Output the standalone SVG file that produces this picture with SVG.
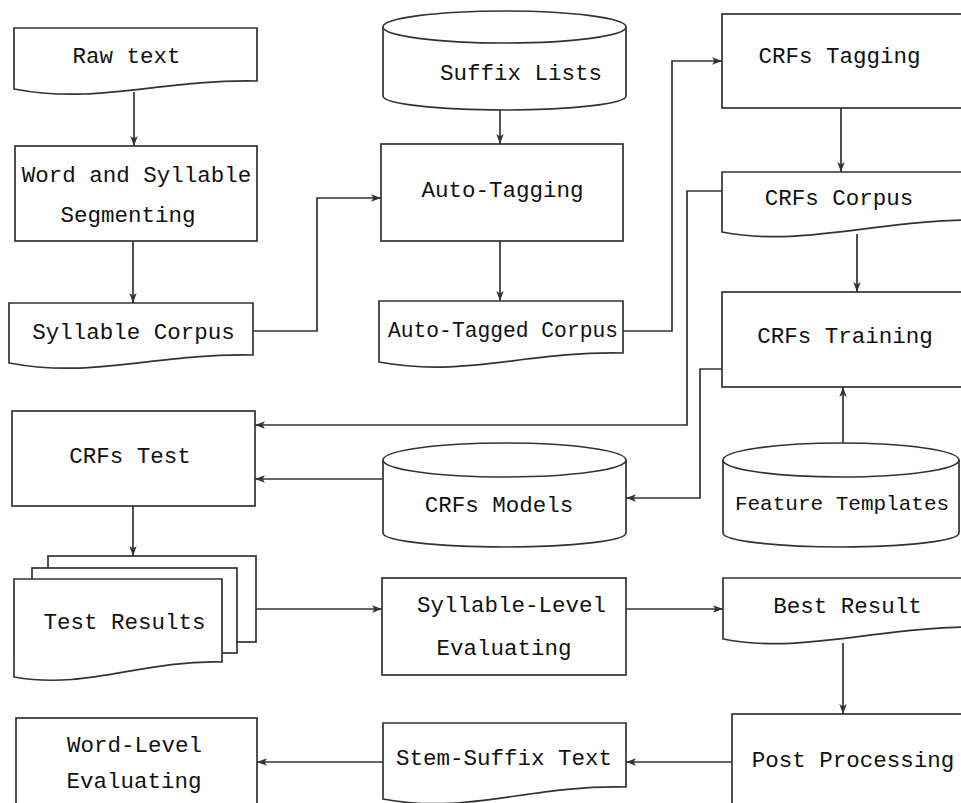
<svg xmlns="http://www.w3.org/2000/svg" width="961" height="803" viewBox="0 0 961 803">
<style>
.s{fill:#fff;stroke:#333;stroke-width:1.7}
.t{font-family:"Liberation Mono","DejaVu Sans Mono",monospace;font-size:22.5px;fill:#111;text-anchor:middle}
.c{fill:none;stroke:#333;stroke-width:1.7}
</style>
<defs>
<marker id="a" markerUnits="userSpaceOnUse" markerWidth="11" markerHeight="9" refX="10" refY="4.5" orient="auto">
<path d="M0,0.8 L10,4.5 L0,8.2 L2.5,4.5 Z" fill="#333"/>
</marker>
</defs>
<rect width="961" height="803" fill="#fff"/>
<g id="raw-text">
<path class="s" d="M14,28 H257 V81 C160,79 99,105 14,89 Z"/>
<text class="t" x="126.5" y="63">Raw text</text>
</g>
<g id="word-syllable-segmenting">
<rect class="s" x="15" y="146" width="242" height="95"/>
<text class="t" x="136.5" y="182">Word and Syllable</text>
<text class="t" x="128" y="222">Segmenting</text>
</g>
<g id="syllable-corpus">
<path class="s" d="M9,303 H253 V355 C155,353 95,379 9,363 Z"/>
<text class="t" x="133.5" y="339">Syllable Corpus</text>
</g>
<g id="suffix-lists">
<path class="s" d="M383,27 V96 A121.5,14 0 0 0 626,96 V27"/>
<ellipse class="s" cx="504.5" cy="27" rx="121.5" ry="16"/>
<text class="t" x="521" y="80">Suffix Lists</text>
</g>
<g id="auto-tagging">
<rect class="s" x="381" y="144" width="242" height="97"/>
<text class="t" x="502.5" y="197">Auto-Tagging</text>
</g>
<g id="auto-tagged-corpus">
<path class="s" d="M379,301 H623 V353 C525,351 465,378 379,362 Z"/>
<text class="t" x="503" y="337" textLength="230" lengthAdjust="spacingAndGlyphs">Auto-Tagged Corpus</text>
</g>
<g id="crfs-tagging">
<rect class="s" x="722" y="14" width="270" height="94"/>
<text class="t" x="839.5" y="63">CRFs Tagging</text>
</g>
<g id="crfs-corpus">
<path class="s" d="M722,172 H990 V220 C880,218 805,248 722,232 Z"/>
<text class="t" x="839" y="205">CRFs Corpus</text>
</g>
<g id="crfs-training">
<rect class="s" x="722" y="292" width="270" height="95"/>
<text class="t" x="845" y="343">CRFs Training</text>
</g>
<g id="feature-templates">
<path class="s" d="M723,460 V533 A118,14 0 0 0 959,533 V460"/>
<ellipse class="s" cx="841" cy="460" rx="118" ry="17"/>
<text class="t" x="842" y="510" style="font-size:21px">Feature Templates</text>
</g>
<g id="crfs-models">
<path class="s" d="M383,460 V533 A121.5,14 0 0 0 626,533 V460"/>
<ellipse class="s" cx="504.5" cy="460" rx="121.5" ry="17"/>
<text class="t" x="499" y="512">CRFs Models</text>
</g>
<g id="crfs-test">
<rect class="s" x="12" y="411" width="243" height="95"/>
<text class="t" x="130" y="463">CRFs Test</text>
</g>
<g id="test-results">
<rect class="s" x="48" y="556" width="208" height="86"/>
<rect class="s" x="32" y="568" width="205" height="85"/>
<path class="s" d="M14,579 H222 V662 C140,660 88,690 14,677 Z"/>
<text class="t" x="124.5" y="629">Test Results</text>
</g>
<g id="syllable-level-evaluating">
<rect class="s" x="382" y="578" width="244" height="97"/>
<text class="t" x="511.5" y="612">Syllable-Level</text>
<text class="t" x="504" y="655">Evaluating</text>
</g>
<g id="best-result">
<path class="s" d="M723,578 H990 V627 C880,625 805,655 723,639 Z"/>
<text class="t" x="847.5" y="613">Best Result</text>
</g>
<g id="post-processing">
<rect class="s" x="732" y="714" width="260" height="110"/>
<text class="t" x="853" y="767">Post Processing</text>
</g>
<g id="stem-suffix-text">
<path class="s" d="M383,723 H626 V787 C528,785 468,815 383,799 Z"/>
<text class="t" x="504" y="765">Stem-Suffix Text</text>
</g>
<g id="word-level-evaluating">
<rect class="s" x="16" y="718" width="241" height="110"/>
<text class="t" x="134.5" y="752">Word-Level</text>
<text class="t" x="134" y="788">Evaluating</text>
</g>
<g id="connectors">
<path class="c" marker-end="url(#a)" d="M134,92 V146"/>
<path class="c" marker-end="url(#a)" d="M133,241 V303"/>
<path class="c" marker-end="url(#a)" d="M253,331 H317 V198 H381"/>
<path class="c" marker-end="url(#a)" d="M500,110 V144"/>
<path class="c" marker-end="url(#a)" d="M500,241 V301"/>
<path class="c" marker-end="url(#a)" d="M623,331 H672 V61 H722"/>
<path class="c" marker-end="url(#a)" d="M841,108 V172"/>
<path class="c" marker-end="url(#a)" d="M722,191 H687 V425 H255"/>
<path class="c" marker-end="url(#a)" d="M857,234 V292"/>
<path class="c" marker-end="url(#a)" d="M843,443 V387"/>
<path class="c" marker-end="url(#a)" d="M722,369 H700 V498 H626"/>
<path class="c" marker-end="url(#a)" d="M383,479 H255"/>
<path class="c" marker-end="url(#a)" d="M133,506 V556"/>
<path class="c" marker-end="url(#a)" d="M256,609 H382"/>
<path class="c" marker-end="url(#a)" d="M626,609 H723"/>
<path class="c" marker-end="url(#a)" d="M843,643 V714"/>
<path class="c" marker-end="url(#a)" d="M732,762 H626"/>
<path class="c" marker-end="url(#a)" d="M383,762 H257"/>
</g>
</svg>
